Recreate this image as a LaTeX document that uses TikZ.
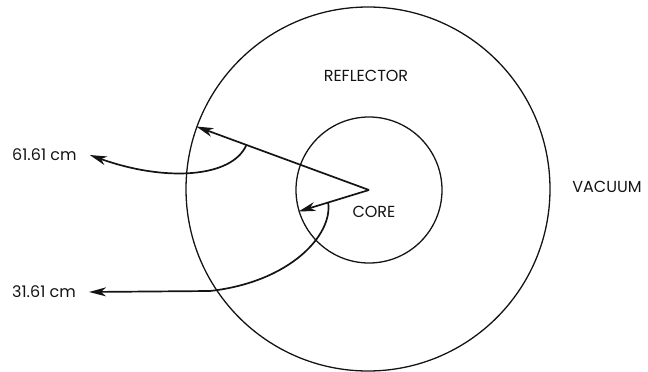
\documentclass[tikz,border=0pt]{standalone}
\usepackage{fontspec}
\setmainfont{Poppins}
\usetikzlibrary{arrows.meta, calc}
\definecolor{linecolor}{RGB}{20, 20, 20}
\tikzstyle{region} = [draw=linecolor, circle, inner sep=0pt, line width=1.3pt]
\tikzstyle{label} = [font=\fontsize{16}{18}\selectfont, text=linecolor, inner sep=0pt]
\tikzstyle{arrow} = [line width=1.7pt, color=linecolor, -{Stealth[length=17pt, width=9pt, inset=5pt]}]

\begin{document}
\begin{tikzpicture}[x=1pt, y=-1pt]
\useasboundingbox (0,0) rectangle (648,372);

% Regions
\node (refl) [region, minimum size=364pt] at (368,189) {};
\node (core) [region, minimum size=146pt] at (369,190) {};

% Texts
\node (refltext) [label] at (366,76) {REFLECTOR};
\node (coretext) [label] at (374,212) {CORE};
\node (vactext) [label] at (607,187) {VACUUM};
\node (lbl61) [label, anchor=west] at (12,155) {61.61 cm};
\node (lbl31) [label, anchor=west] at (12,292) {31.61 cm};

% Radii
\coordinate (c) at (369,190);
\draw [arrow] (c) -- (refl.160.5) coordinate (rout);
\draw [arrow] (c) -- (core.197) coordinate (rin);

% Angle arcs
\coordinate (a61) at ($(c)!0.71!(rout)$);
\coordinate (a31) at ($(c)!0.58!(rin)$);
\draw [arrow] (a61) .. controls (232,178) and (165,182) .. ([xshift=13pt]lbl61.east);
\draw [arrow] (a31) .. controls (333,235) and (290,282) .. (210,291) -- ([xshift=13pt]lbl31.east);

\end{tikzpicture}
\end{document}
